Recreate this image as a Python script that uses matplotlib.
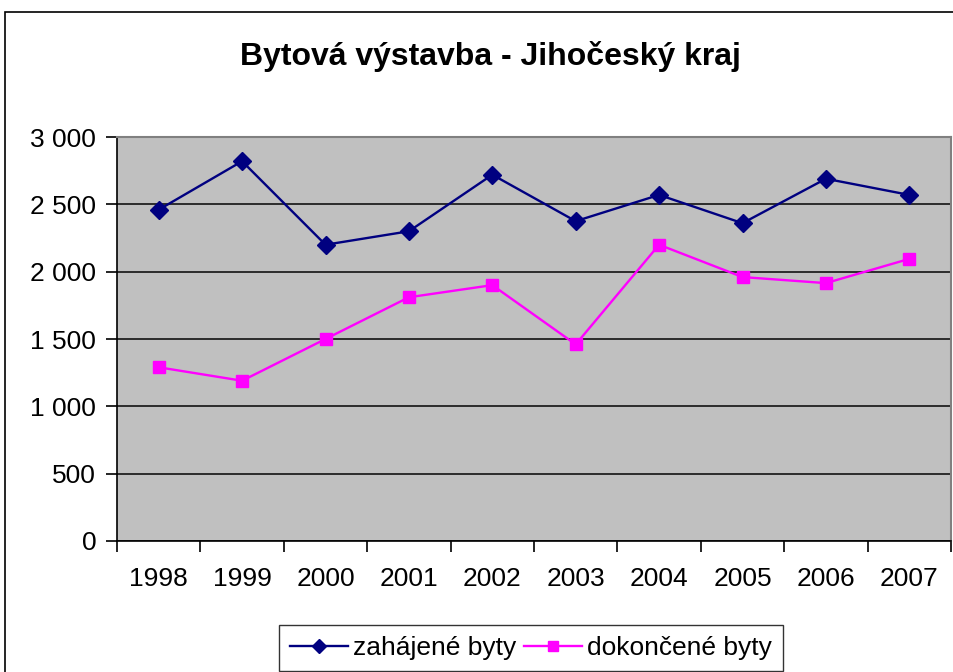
import matplotlib
matplotlib.use("Agg")
import matplotlib.pyplot as plt
from matplotlib.patches import Rectangle
from matplotlib.ticker import FuncFormatter

plt.rcParams['font.family'] = ['Liberation Sans', 'DejaVu Sans']

# data
years = ['1998', '1999', '2000', '2001', '2002', '2003', '2004', '2005', '2006', '2007']
zahajene = [2460, 2820, 2200, 2300, 2720, 2375, 2570, 2360, 2690, 2570]
dokoncene = [1290, 1190, 1500, 1810, 1900, 1460, 2200, 1960, 1915, 2095]
y_ticks = [0, 500, 1000, 1500, 2000, 2500, 3000]

W, H = 954, 672
fig = plt.figure(figsize=(W / 100, H / 100), dpi=100)

# outer chart frame (cut by the image edges on the right and bottom)
fig.patches.append(Rectangle((5 / W, -0.01), 1.0, 1 - 12 / H + 0.01,
                             transform=fig.transFigure, fill=False,
                             edgecolor='black', linewidth=1.2))

# plot area in pixels: left 117, right 951, top 137, bottom 541
ax = fig.add_axes([117 / W, 1 - 541 / H, (951 - 117) / W, (541 - 137) / H])
ax.set_facecolor('#c0c0c0')

x = list(range(len(years)))
ax.plot(x, zahajene, color='#000080', marker='D', markersize=9, linewidth=1.7,
        label='zahájené byty')
ax.plot(x, dokoncene, color='#ff00ff', marker='s', markersize=9, linewidth=1.7,
        label='dokončené byty')

ax.set_xlim(-0.5, len(years) - 0.5)
ax.set_ylim(0, 3000)
ax.set_yticks(y_ticks)
ax.yaxis.set_major_formatter(FuncFormatter(lambda v, p: f'{int(v):,}'.replace(',', ' ')))
ax.grid(axis='y', color='#202020', linewidth=1.3)
ax.set_axisbelow(True)

# category axis: labels at the centres, tick marks between categories
ax.set_xticks(x)
ax.set_xticklabels(years)
ax.set_xticks([i - 0.5 for i in range(len(years) + 1)], minor=True)
ax.tick_params(axis='x', which='major', length=0, pad=19, labelsize=19)
ax.tick_params(axis='x', which='minor', length=8, width=1.2, direction='out')
ax.tick_params(axis='y', length=8, width=1.2, direction='out', pad=7, labelsize=19)

for s in ['top', 'right']:
    ax.spines[s].set_color('#808080')
    ax.spines[s].set_linewidth(1.5)
for s in ['left', 'bottom']:
    ax.spines[s].set_color('black')
    ax.spines[s].set_linewidth(1.2)

fig.text(490 / W, 1 - 56 / H, 'Bytová výstavba - Jihočeský kraj',
         ha='center', va='center', fontsize=23, fontweight='bold')

leg = fig.legend(loc='center', bbox_to_anchor=(531 / W, 1 - 648 / H), ncol=2,
                 fontsize=19, frameon=True, fancybox=False, handlelength=2.2,
                 handletextpad=0.2, columnspacing=0.3, borderpad=0.4,
                 borderaxespad=0, markerscale=0.8)
leg.get_frame().set_edgecolor('black')
leg.get_frame().set_linewidth(1.0)

fig.savefig('out.png', dpi=100, facecolor='white')
